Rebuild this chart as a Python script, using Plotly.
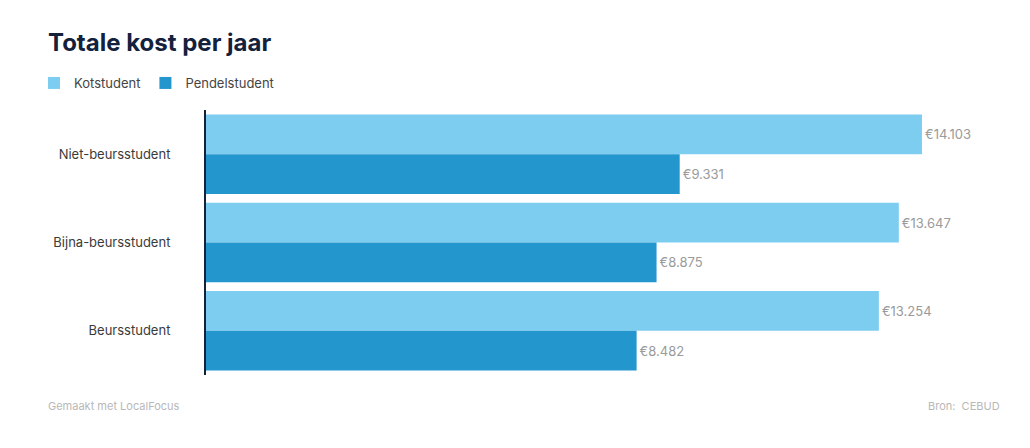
import plotly.graph_objects as go

categories = ["Niet-beursstudent", "Bijna-beursstudent", "Beursstudent"]
kotstudent = [14103, 13647, 13254]
pendelstudent = [9331, 8875, 8482]
series_names = ["Kotstudent", "Pendelstudent"]

LIGHT = "#7DCDF1"
DARK = "#2496CE"
FONT = "Inter, Roboto, Arial, sans-serif"
W, H = 1030, 448
OFF = 8  # page body margin

fig = go.Figure()
for name, vals, col in [(series_names[0], kotstudent, LIGHT), (series_names[1], pendelstudent, DARK)]:
    fig.add_trace(go.Bar(
        y=categories, x=vals, name=name, orientation="h",
        marker=dict(color=col, line=dict(width=0)),
        texttemplate="€%{x:,}", textposition="outside",
        textfont=dict(color="#9a9a9a", size=13, family=FONT),
        cliponaxis=False, hoverinfo="x+name",
    ))

fig.update_layout(
    width=W, height=H,
    margin=dict(l=198, r=38, t=98, b=81),
    paper_bgcolor="white", plot_bgcolor="white",
    barmode="group", bargap=0.1, bargroupgap=0,
    separators=",.",
    font=dict(family=FONT, color="#333333"),
    title=dict(text="<b>Totale kost per jaar</b>", x=(48 - OFF) / W, xref="container", xanchor="left",
               y=1 - (43 - OFF) / H, yref="container", yanchor="middle",
               font=dict(size=24, color="#14213d", family=FONT)),
    legend=dict(orientation="h", x=(48 - 22) / W, xref="container", xanchor="left",
                y=1 - (83 - OFF) / H, yref="container", yanchor="middle",
                font=dict(size=13, color="#444444", family=FONT),
                itemwidth=30, traceorder="normal", tracegroupgap=0),
    showlegend=True,
)
fig.update_xaxes(range=[0, 15640], showgrid=False, zeroline=False, showticklabels=False, showline=False)
fig.update_yaxes(autorange="reversed", showgrid=False, showline=True, linecolor="#14213d", linewidth=2,
                 ticks="", ticklabelstandoff=31, tickfont=dict(size=13, color="#3a3a3a", family=FONT))

fig.add_annotation(text="Gemaakt met LocalFocus", xref="paper", yref="paper", x=0, y=0,
                   xshift=-160, yshift=-31, xanchor="left", yanchor="middle", showarrow=False,
                   font=dict(size=11, color="#b8b8b8", family=FONT))
fig.add_annotation(text="Bron:  CEBUD", xref="paper", yref="paper", x=1, y=0,
                   xshift=2, yshift=-31, xanchor="right", yanchor="middle", showarrow=False,
                   font=dict(size=11, color="#b8b8b8", family=FONT))

fig.write_html("out.html")
